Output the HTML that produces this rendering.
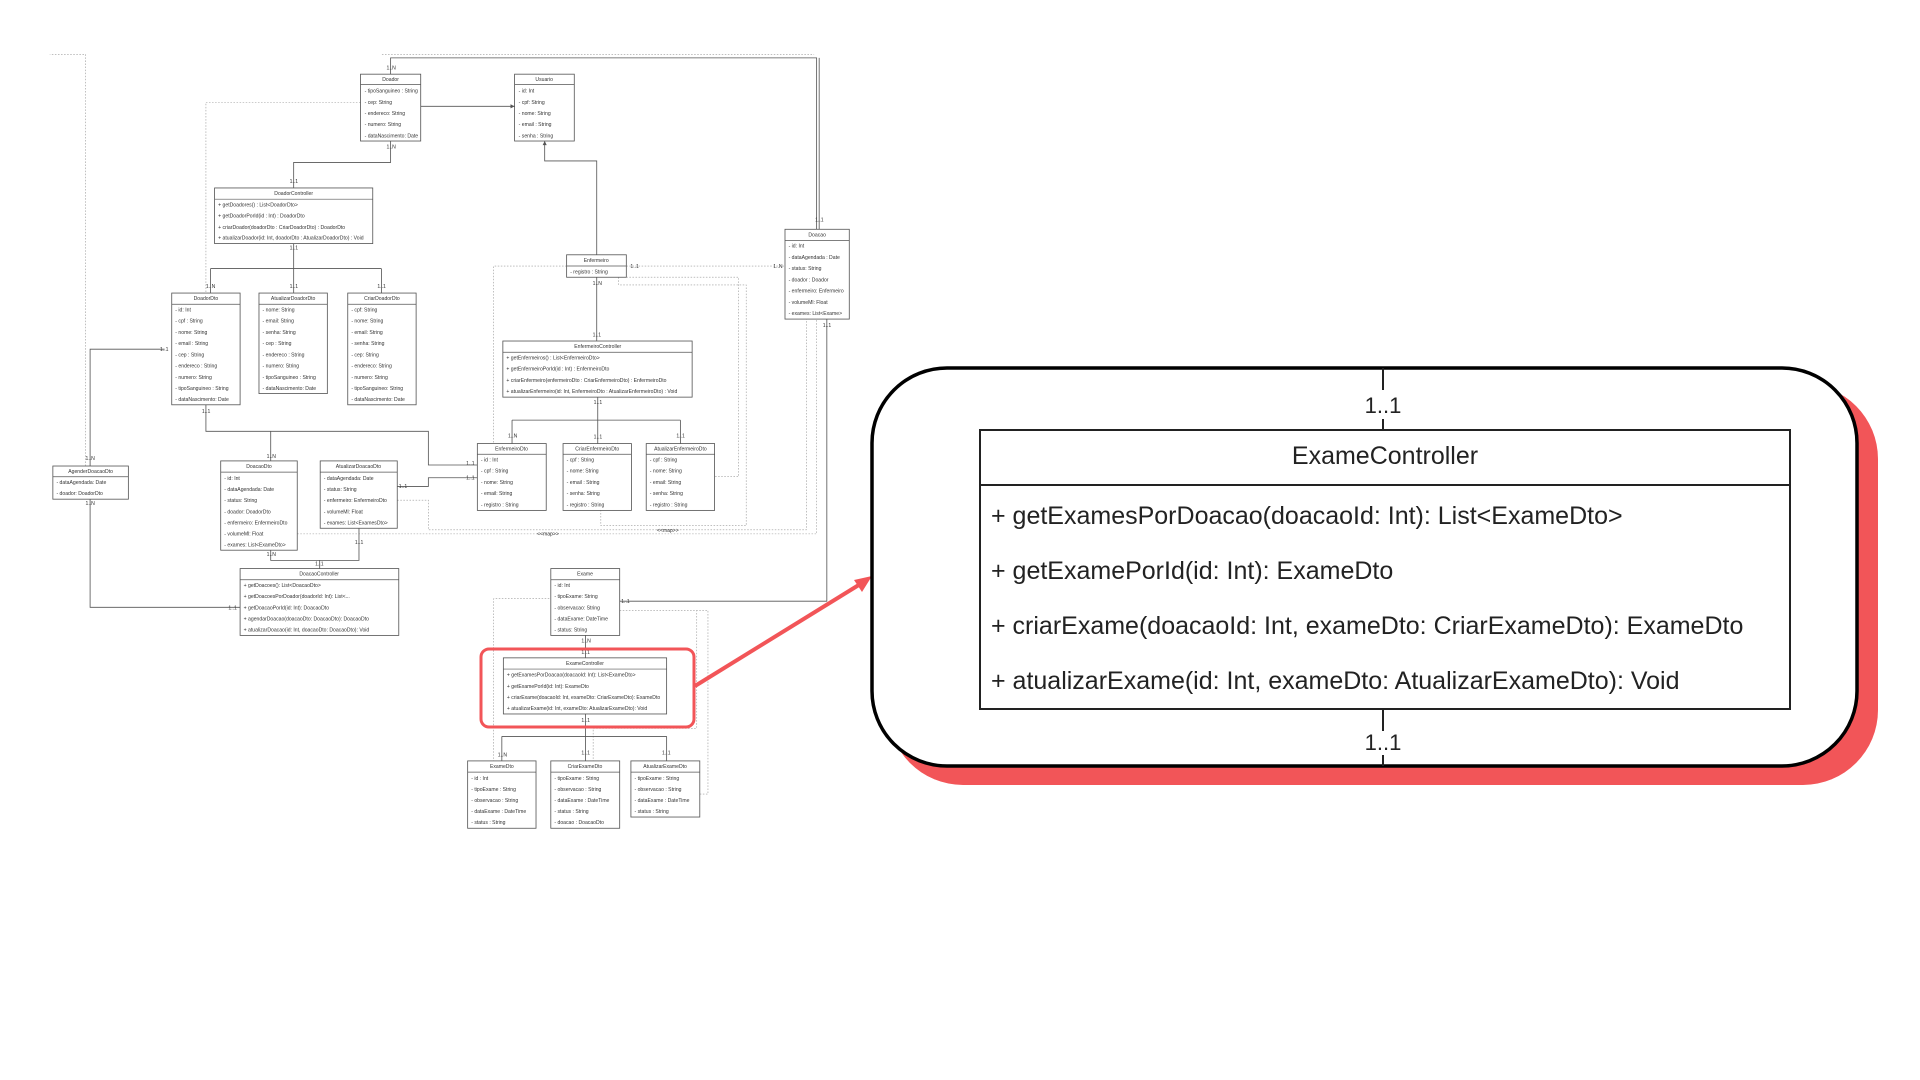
<!DOCTYPE html>
<html><head><meta charset="utf-8"><style>
html,body{margin:0;padding:0;background:#fff;}
svg{display:block;}
.d text{font-family:"Liberation Sans",sans-serif;font-size:10px;fill:#333;}
.d rect{fill:#fff;stroke:#555;stroke-width:1.6;}
.d .h{stroke:#555;stroke-width:1.4;}
.d .c{fill:none;stroke:#555;stroke-width:1.6;}
.d .ds{fill:none;stroke:#999;stroke-width:1.2;stroke-dasharray:3 3;}
.d .t{text-anchor:middle;}
</style></head><body>
<svg width="1920" height="1080" viewBox="0 0 1920 1080" xmlns="http://www.w3.org/2000/svg">
<rect width="1920" height="1080" fill="#fff"/>
<g class="d" transform="translate(60,40) scale(0.5102)">
<path class="ds" d="M50 835 V28 H -20 M631 28 H1478 M589 122 H286 V496 M993 443 H850 V791 M1110 443 H1421 M1095 465 V480 H1345 V952 H1060 V922 M1110 465 H1330 V856 H1283 M661 902 H722 V960 H1463 V547 M465 968 H1483 V547 M1097 1095 H850 V1413 M1097 1118 H1248 V1349 H1045 V1413 M1097 1118 H1270 V1478 H1254"/>
<path class="c" d="M648 198 V240 H458 V290 M458 399 V448 M295 448 H630 M295 448 V496 M458 448 V496 M630 448 V496 M707 130 H891 M1052 421 V237 H950 V198 M1052 465 V590 M1054 700 V745 M886 745 H1216 M886 745 V791 M1054 745 V791 M1216 745 V791 M648 67 V35 H1483 V371 M1488 35 V371 M286 715 V767 H722 V833 H818 M413 767 V825 M661 875 H722 V858 H818 M205 606 H59 V835 M59 900 V1112 H353 M413 1000 V1020 H586 V957 M509 1020 V1036 M1030 1167 V1211 M1030 1321 V1365 M866 1365 H1189 M866 1365 V1413 M1030 1365 V1413 M1189 1365 V1413 M1503 547 V1100 H1097"/>
<path d="M891 130 l-8 -4 v8z M950 198 l-4 8 h8z" fill="#555"/>
<g style="font-size:8px">
<text x="640" y="58">1..N</text><text x="640" y="213">1..N</text><text x="450" y="280">1..1</text><text x="450" y="411">1..1</text>
<text x="286" y="486">1..N</text><text x="450" y="486">1..1</text><text x="622" y="486">1..1</text>
<text x="1480" y="356">1..1</text><text x="1495" y="563">1..1</text><text x="1044" y="480">1..N</text><text x="1044" y="581">1..1</text>
<text x="1046" y="713">1..1</text><text x="878" y="779">1..N</text><text x="1046" y="781">1..1</text><text x="1208" y="779">1..1</text>
<text x="1118" y="447">1..1</text><text x="1398" y="447">1..N</text><text x="278" y="731">1..1</text><text x="405" y="819">1..N</text>
<text x="796" y="833">1..1</text><text x="796" y="861">1..1</text><text x="664" y="878">1..1</text><text x="196" y="610">1..1</text>
<text x="50" y="823">1..N</text><text x="50" y="911">1..N</text><text x="330" y="1116">1..1</text><text x="405" y="1011">1..N</text>
<text x="578" y="988">1..1</text><text x="500" y="1030">1..1</text><text x="1022" y="1181">1..N</text><text x="1022" y="1203">1..1</text>
<text x="1022" y="1337">1..1</text><text x="858" y="1404">1..N</text><text x="1022" y="1400">1..1</text><text x="1180" y="1400">1..1</text>
<text x="1100" y="1103">1..1</text><text x="935" y="971">&lt;&lt;map&gt;&gt;</text><text x="1170" y="964">&lt;&lt;map&gt;&gt;</text>
</g>
<rect x="589" y="67" width="118" height="131"/><line class="h" x1="589" y1="87" x2="707" y2="87"/>
<text class="t" x="648" y="80">Doador</text>
<text x="597" y="103">- tipoSanguineo : String</text><text x="597" y="125">- cep: String</text><text x="597" y="147">- endereco: String</text><text x="597" y="169">- numero: String</text><text x="597" y="191">- dataNascimento: Date</text>
<rect x="891" y="67" width="117" height="131"/><line class="h" x1="891" y1="87" x2="1008" y2="87"/>
<text class="t" x="949" y="80">Usuario</text>
<text x="899" y="103">- id: Int</text><text x="899" y="125">- cpf: String</text><text x="899" y="147">- nome: String</text><text x="899" y="169">- email : String</text><text x="899" y="191">- senha : String</text>
<rect x="303" y="290" width="310" height="109"/><line class="h" x1="303" y1="312" x2="613" y2="312"/>
<text class="t" x="458" y="304">DoadorController</text>
<text x="310" y="326">+ getDoadores() : List&lt;DoadorDto&gt;</text><text x="310" y="348">+ getDoadorPorId(id : Int) : DoadorDto</text><text x="310" y="370">+ criarDoador(doadorDto : CriarDoadorDto) : DoadorDto</text><text x="310" y="391">+ atualizarDoador(id: Int, doadorDto : AtualizarDoadorDto) : Void</text>
<rect x="219" y="496" width="134" height="219"/><line class="h" x1="219" y1="518" x2="353" y2="518"/>
<text class="t" x="286" y="510">DoadorDto</text>
<text x="226" y="532">- id: Int</text><text x="226" y="554">- cpf : String</text><text x="226" y="576">- nome: String</text><text x="226" y="598">- email : String</text><text x="226" y="620">- cep : String</text><text x="226" y="642">- endereco : String</text><text x="226" y="664">- numero: String</text><text x="226" y="686">- tipoSanguineo : String</text><text x="226" y="708">- dataNascimento: Date</text>
<rect x="390" y="496" width="134" height="197"/><line class="h" x1="390" y1="518" x2="524" y2="518"/>
<text class="t" x="457" y="510">AtualizarDoadorDto</text>
<text x="397" y="532">- nome: String</text><text x="397" y="554">- email: String</text><text x="397" y="576">- senha: String</text><text x="397" y="598">- cep : String</text><text x="397" y="620">- endereco : String</text><text x="397" y="642">- numero: String</text><text x="397" y="664">- tipoSanguineo : String</text><text x="397" y="686">- dataNascimento: Date</text>
<rect x="564" y="496" width="134" height="219"/><line class="h" x1="564" y1="518" x2="698" y2="518"/>
<text class="t" x="631" y="510">CriarDoadorDto</text>
<text x="571" y="532">- cpf: String</text><text x="571" y="554">- nome: String</text><text x="571" y="576">- email: String</text><text x="571" y="598">- senha: String</text><text x="571" y="620">- cep: String</text><text x="571" y="642">- endereco: String</text><text x="571" y="664">- numero: String</text><text x="571" y="686">- tipoSanguineo: String</text><text x="571" y="708">- dataNascimento: Date</text>
<rect x="993" y="421" width="117" height="44"/><line class="h" x1="993" y1="443" x2="1110" y2="443"/>
<text class="t" x="1051" y="435">Enfermeiro</text><text x="1000" y="458">- registro : String</text>
<rect x="1421" y="371" width="126" height="176"/><line class="h" x1="1421" y1="393" x2="1547" y2="393"/>
<text class="t" x="1484" y="385">Doacao</text>
<text x="1428" y="407">- id: Int</text><text x="1428" y="429">- dataAgendada : Date</text><text x="1428" y="451">- status: String</text><text x="1428" y="473">- doador : Doador</text><text x="1428" y="495">- enfermeiro: Enfermeiro</text><text x="1428" y="517">- volumeMl: Float</text><text x="1428" y="539">- exames: List&lt;Exame&gt;</text>
<rect x="868" y="590" width="371" height="110"/><line class="h" x1="868" y1="612" x2="1239" y2="612"/>
<text class="t" x="1054" y="604">EnfermeiroController</text>
<text x="875" y="626">+ getEnfermeiros() : List&lt;EnfermeiroDto&gt;</text><text x="875" y="648">+ getEnfermeiroPorId(id : Int) : EnfermeiroDto</text><text x="875" y="670">+ criarEnfermeiro(enfermeiroDto : CriarEnfermeiroDto) : EnfermeiroDto</text><text x="875" y="692">+ atualizarEnfermeiro(id: Int, EnfermeiroDto : AtualizarEnfermeiroDto) : Void</text>
<rect x="818" y="791" width="135" height="131"/><line class="h" x1="818" y1="812" x2="953" y2="812"/>
<text class="t" x="885" y="805">EnfermeiroDto</text>
<text x="825" y="826">- id : Int</text><text x="825" y="848">- cpf : String</text><text x="825" y="870">- nome: String</text><text x="825" y="892">- email: String</text><text x="825" y="914">- registro : String</text>
<rect x="986" y="791" width="134" height="131"/><line class="h" x1="986" y1="812" x2="1120" y2="812"/>
<text class="t" x="1053" y="805">CriarEnfermeiroDto</text>
<text x="993" y="826">- cpf : String</text><text x="993" y="848">- nome: String</text><text x="993" y="870">- email : String</text><text x="993" y="892">- senha: String</text><text x="993" y="914">- registro : String</text>
<rect x="1149" y="791" width="134" height="131"/><line class="h" x1="1149" y1="812" x2="1283" y2="812"/>
<text class="t" x="1216" y="805">AtualizarEnfermeiroDto</text>
<text x="1156" y="826">- cpf : String</text><text x="1156" y="848">- nome: String</text><text x="1156" y="870">- email: String</text><text x="1156" y="892">- senha: String</text><text x="1156" y="914">- registro : String</text>
<rect x="-14" y="835" width="148" height="65"/><line class="h" x1="-14" y1="856" x2="134" y2="856"/>
<text class="t" x="60" y="849">AgenderDoacaoDto</text>
<text x="-7" y="870">- dataAgendada: Date</text><text x="-7" y="892">- doador: DoadorDto</text>
<rect x="315" y="825" width="150" height="175"/><line class="h" x1="315" y1="847" x2="465" y2="847"/>
<text class="t" x="390" y="839">DoacaoDto</text>
<text x="322" y="862">- id: Int</text><text x="322" y="884">- dataAgendada: Date</text><text x="322" y="906">- status: String</text><text x="322" y="928">- doador: DoadorDto</text><text x="322" y="950">- enfermeiro: EnfermeiroDto</text><text x="322" y="971">- volumeMl: Float</text><text x="322" y="993">- exames: List&lt;ExameDto&gt;</text>
<rect x="510" y="825" width="151" height="132"/><line class="h" x1="510" y1="847" x2="661" y2="847"/>
<text class="t" x="585" y="839">AtualizarDoacaoDto</text>
<text x="517" y="862">- dataAgendada: Date</text><text x="517" y="884">- status: String</text><text x="517" y="906">- enfermeiro: EnfermeiroDto</text><text x="517" y="928">- volumeMl: Float</text><text x="517" y="950">- exames: List&lt;ExamesDto&gt;</text>
<rect x="353" y="1036" width="311" height="131"/><line class="h" x1="353" y1="1058" x2="664" y2="1058"/>
<text class="t" x="508" y="1050">DoacaoController</text>
<text x="360" y="1072">+ getDoacoes(): List&lt;DoacaoDto&gt;</text><text x="360" y="1094">+ getDoacoesPorDoador(doadorId: Int): List&lt;...</text><text x="360" y="1116">+ getDoacaoPorId(id: Int): DoacaoDto</text><text x="360" y="1138">+ agendarDoacao(doacaoDto: DoacaoDto): DoacaoDto</text><text x="360" y="1159">+ atualizarDoacao(id: Int, doacaoDto: DoacaoDto): Void</text>
<rect x="962" y="1036" width="135" height="131"/><line class="h" x1="962" y1="1058" x2="1097" y2="1058"/>
<text class="t" x="1029" y="1050">Exame</text>
<text x="969" y="1072">- id: Int</text><text x="969" y="1094">- tipoExame: String</text><text x="969" y="1116">- observacao: String</text><text x="969" y="1138">- dataExame: DateTime</text><text x="969" y="1159">- status: String</text>
<rect x="869" y="1211" width="320" height="110"/><line class="h" x1="869" y1="1233" x2="1189" y2="1233"/>
<text class="t" x="1029" y="1225">ExameController</text>
<text x="876" y="1248">+ getExamesPorDoacao(doacaoId: Int): List&lt;ExameDto&gt;</text><text x="876" y="1270">+ getExamePorId(id: Int): ExameDto</text><text x="876" y="1292">+ criarExame(doacaoId: Int, exameDto: CriarExameDto): ExameDto</text><text x="876" y="1313">+ atualizarExame(id: Int, exameDto: AtualizarExameDto): Void</text>
<rect x="799" y="1413" width="134" height="132"/><line class="h" x1="799" y1="1435" x2="933" y2="1435"/>
<text class="t" x="866" y="1427">ExameDto</text>
<text x="806" y="1450">- id : Int</text><text x="806" y="1472">- tipoExame : String</text><text x="806" y="1494">- observacao : String</text><text x="806" y="1515">- dataExame : DateTime</text><text x="806" y="1537">- status : String</text>
<rect x="962" y="1413" width="135" height="132"/><line class="h" x1="962" y1="1435" x2="1097" y2="1435"/>
<text class="t" x="1029" y="1427">CriarExameDto</text>
<text x="969" y="1450">- tipoExame : String</text><text x="969" y="1472">- observacao : String</text><text x="969" y="1494">- dataExame : DateTime</text><text x="969" y="1515">- status : String</text><text x="969" y="1537">- doacao : DoacaoDto</text>
<rect x="1119" y="1413" width="135" height="110"/><line class="h" x1="1119" y1="1435" x2="1254" y2="1435"/>
<text class="t" x="1186" y="1427">AtualizarExameDto</text>
<text x="1126" y="1450">- tipoExame : String</text><text x="1126" y="1472">- observacao : String</text><text x="1126" y="1494">- dataExame : DateTime</text><text x="1126" y="1515">- status : String</text>
</g>
<rect x="481" y="649" width="213" height="78" rx="8" fill="none" stroke="#f25558" stroke-width="3"/>
<line x1="695" y1="686" x2="862" y2="583" stroke="#f25558" stroke-width="4"/>
<path d="M872 576 L854 580 L862 592 Z" fill="#f25558"/>
<rect x="888" y="384" width="990" height="401" rx="75" fill="#f25558"/>
<rect x="872" y="368" width="985" height="398" rx="75" fill="#fff" stroke="#000" stroke-width="3.5"/>
<line x1="1383" y1="368" x2="1383" y2="390" stroke="#222" stroke-width="2"/>
<line x1="1383" y1="419" x2="1383" y2="430" stroke="#222" stroke-width="2"/>
<text x="1383" y="413" text-anchor="middle" font-family="Liberation Sans, sans-serif" font-size="22" fill="#222">1..1</text>
<rect x="980" y="430" width="810" height="279" fill="#fff" stroke="#222" stroke-width="2"/>
<line x1="980" y1="485" x2="1790" y2="485" stroke="#222" stroke-width="2"/>
<g font-family="Liberation Sans, sans-serif" fill="#222">
<text x="1385" y="464" text-anchor="middle" font-size="25">ExameController</text>
<g font-size="25">
<text x="991" y="524">+ getExamesPorDoacao(doacaoId: Int): List&lt;ExameDto&gt;</text>
<text x="991" y="579">+ getExamePorId(id: Int): ExameDto</text>
<text x="991" y="634">+ criarExame(doacaoId: Int, exameDto: CriarExameDto): ExameDto</text>
<text x="991" y="689">+ atualizarExame(id: Int, exameDto: AtualizarExameDto): Void</text>
</g></g>
<line x1="1383" y1="709" x2="1383" y2="731" stroke="#222" stroke-width="2"/>
<line x1="1383" y1="755" x2="1383" y2="766" stroke="#222" stroke-width="2"/>
<text x="1383" y="750" text-anchor="middle" font-family="Liberation Sans, sans-serif" font-size="22" fill="#222">1..1</text>
</svg>
</body></html>
